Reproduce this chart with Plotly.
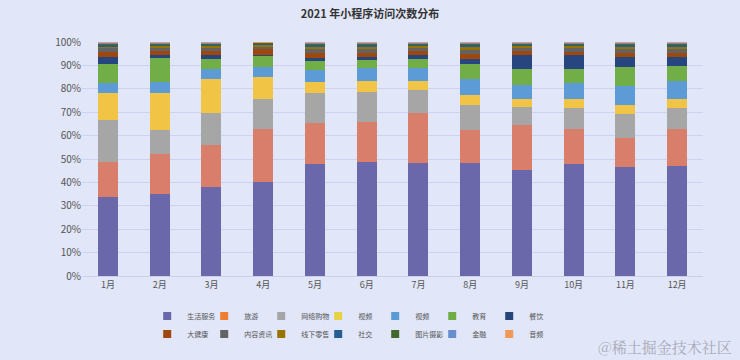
import plotly.graph_objects as go

months = ["1月", "2月", "3月", "4月", "5月", "6月", "7月", "8月", "9月", "10月", "11月", "12月"]

life_service = [33.6, 35.0, 38.2, 40.3, 47.9, 48.6, 48.4, 48.1, 45.4, 47.9, 46.7, 47.0]
travel = [15.0, 17.2, 17.9, 22.4, 17.3, 17.3, 21.1, 14.3, 19.1, 14.9, 12.1, 15.8]
shopping = [18.1, 10.2, 13.7, 12.9, 12.9, 12.9, 10.0, 10.7, 7.9, 8.9, 10.4, 9.1]
video_a = [11.4, 15.7, 14.4, 9.3, 4.9, 4.5, 3.8, 4.3, 3.2, 3.8, 3.7, 3.6]
video_b = [4.5, 4.9, 4.1, 4.6, 5.2, 5.8, 5.5, 6.7, 6.0, 6.8, 8.1, 8.0]
education = [8.0, 10.0, 4.3, 4.7, 3.7, 3.5, 3.9, 6.4, 6.9, 6.2, 8.2, 6.4]
catering = [2.8, 1.3, 1.7, 0.3, 1.3, 0.8, 1.6, 2.4, 5.8, 5.8, 4.2, 3.5]
health = [2.3, 1.7, 2.0, 2.3, 2.2, 2.1, 1.8, 2.0, 1.7, 1.6, 1.9, 1.9]
news = [1.6, 1.4, 1.3, 1.2, 1.4, 1.5, 1.3, 1.7, 1.3, 1.4, 1.6, 1.6]
retail = [0.9, 1.0, 0.8, 0.8, 1.1, 1.0, 1.0, 1.2, 1.0, 1.0, 1.1, 1.1]
social = [0.8, 0.7, 0.7, 0.5, 1.0, 0.9, 0.7, 1.0, 0.8, 0.8, 0.9, 0.9]
photo = [0.5, 0.4, 0.4, 0.3, 0.5, 0.5, 0.4, 0.6, 0.4, 0.4, 0.5, 0.5]
finance = [0.3, 0.3, 0.3, 0.2, 0.3, 0.3, 0.3, 0.3, 0.3, 0.3, 0.3, 0.3]
audio = [0.2, 0.2, 0.2, 0.2, 0.3, 0.3, 0.2, 0.3, 0.2, 0.2, 0.3, 0.3]

names = ["生活服务", "旅游", "网络购物", "视频", "视频", "教育", "餐饮",
         "大健康", "内容资讯", "线下零售", "社交", "图片摄影", "金融", "音频"]
series = [life_service, travel, shopping, video_a, video_b, education, catering,
          health, news, retail, social, photo, finance, audio]
colors = ["#6a67ab", "#d97e6b", "#a5a6a5", "#f2c445", "#5c9bd6", "#71ae48", "#27457e",
          "#9e480e", "#636363", "#997300", "#255e91", "#43682b", "#698ed0", "#f1975a"]
legend_colors = ["#6a67ab", "#ed7d31", "#a5a5a5", "#e8d244", "#5b9bd5", "#70ad47", "#264478",
                 "#9e480e", "#636363", "#997300", "#255e91", "#43682b", "#698ed0", "#f1975a"]

FONT = "Noto Sans CJK SC, Noto Sans, sans-serif"
BG = "#e1e6f8"

fig = go.Figure()
for i, (n, s, c) in enumerate(zip(names, series, colors)):
    fig.add_trace(go.Bar(x=months, y=s, name=n, marker=dict(color=c, line=dict(width=0)),
                         showlegend=False, legendgroup=f"g{i}"))
for i, (n, c) in enumerate(zip(names, legend_colors)):
    fig.add_trace(go.Scatter(x=[None], y=[None], mode="markers", name=n,
                             marker=dict(symbol="square", size=8, color=c),
                             legendgroup=f"g{i}", showlegend=True,
                             legend="legend" if i < 7 else "legend2"))

leg_common = dict(orientation="h", xanchor="left", yanchor="middle",
                  font=dict(family=FONT, size=7, color="#555"),
                  entrywidth=12, entrywidthmode="pixels", traceorder="normal",
                  itemwidth=30, bgcolor="rgba(0,0,0,0)")

fig.update_layout(
    width=740, height=360,
    barmode="stack", barnorm="percent", bargap=0.61,
    paper_bgcolor=BG, plot_bgcolor=BG,
    margin=dict(l=82, r=37, t=42, b=84, autoexpand=False),
    font=dict(family=FONT, size=10, color="#555"),
    title=dict(text="<b>2021 年小程序访问次数分布</b>", x=0.5, xanchor="center", y=0.961, yanchor="middle",
               font=dict(family=FONT, size=11, color="#333")),
    showlegend=True,
    legend=dict(x=0.105, y=-0.171, **leg_common),
    legend2=dict(x=0.105, y=-0.248, **leg_common),
    xaxis=dict(tickfont=dict(size=9, color="#555"), showgrid=False, showline=True,
               linecolor="#c9cfe8", ticks="", fixedrange=True),
    yaxis=dict(range=[0, 100], dtick=10, ticksuffix="%", gridcolor="#cdd3ee", gridwidth=1,
               tickfont=dict(size=10, color="#555"), zeroline=False, ticks="",
               ticklen=0),
    annotations=[dict(text="@稀土掘金技术社区", xref="paper", yref="paper", x=1.05, y=-0.3,
                      xanchor="right", yanchor="middle", showarrow=False,
                      font=dict(family="Noto Serif CJK SC, Noto Sans CJK SC", size=15, color="rgba(150,150,165,0.8)"))],
)

fig.write_html("out.html", config={"displayModeBar": False},
               post_script="document.body.style.margin='0';")
